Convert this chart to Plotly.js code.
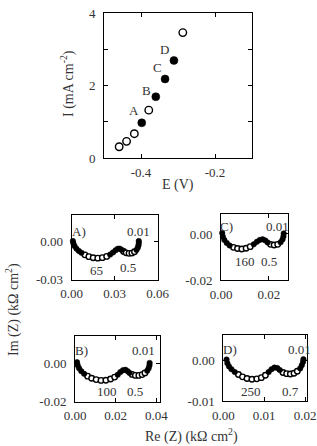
<!DOCTYPE html>
<html><head><meta charset="utf-8">
<script src="https://cdn.plot.ly/plotly-3.0.1.min.js"></script>
<style>html,body{margin:0;padding:0;background:#fff}#c{width:317px;height:446px}</style>
</head><body><div id="c"></div>
<script>
// ---- Top panel: I vs E ----
const E_open = [-0.459, -0.439, -0.418, -0.379, -0.287];
const I_open = [0.31, 0.46, 0.67, 1.32, 3.46];
const E_filled = [-0.398, -0.360, -0.335, -0.311];
const I_filled = [0.97, 1.69, 2.18, 2.69];
const pointLabels = ["A", "B", "C", "D"];

// ---- Panel A ----
const A_f1_re = [0.0008, 0.0012, 0.0020, 0.0033, 0.0050, 0.0068];
const A_f1_im = [0.0005, -0.0015, -0.0035, -0.0055, -0.0073, -0.0088];
const A_o1_re = [0.0092, 0.0120, 0.0150, 0.0182, 0.0214, 0.0244];
const A_o1_im = [-0.0104, -0.0118, -0.0127, -0.0130, -0.0126, -0.0116];
const A_f2_re = [0.0268, 0.0288, 0.0306, 0.0321, 0.0335, 0.0348];
const A_f2_im = [-0.0102, -0.0085, -0.0068, -0.0056, -0.0055, -0.0064];
const A_o2_re = [0.0362, 0.0380, 0.0400, 0.0420, 0.0438];
const A_o2_im = [-0.0078, -0.0088, -0.0092, -0.0090, -0.0080];
const A_f3_re = [0.0452, 0.0461, 0.0466, 0.0468, 0.0468];
const A_f3_im = [-0.0065, -0.0047, -0.0029, -0.0011, 0.0005];

// ---- Panel B ----
const B_f1_re = [0.0010, 0.0013, 0.0020, 0.0031, 0.0045];
const B_f1_im = [0.0006, -0.0010, -0.0026, -0.0041, -0.0055];
const B_o1_re = [0.0062, 0.0082, 0.0104, 0.0128, 0.0152, 0.0175, 0.0195];
const B_o1_im = [-0.0067, -0.0078, -0.0085, -0.0089, -0.0088, -0.0082, -0.0072];
const B_f2_re = [0.0210, 0.0223, 0.0236, 0.0248, 0.0259, 0.0268];
const B_f2_im = [-0.0060, -0.0046, -0.0036, -0.0034, -0.0041, -0.0050];
const B_o2_re = [0.0281, 0.0297, 0.0314, 0.0330, 0.0344];
const B_o2_im = [-0.0058, -0.0063, -0.0063, -0.0059, -0.0050];
const B_f3_re = [0.0355, 0.0362, 0.0366, 0.0367];
const B_f3_im = [-0.0039, -0.0026, -0.0012, 0.0002];

// ---- Panel C ----
const C_f1_re = [0.0005, 0.0008, 0.0014, 0.0024, 0.0036];
const C_f1_im = [0.0004, -0.0012, -0.0026, -0.0039, -0.0050];
const C_o1_re = [0.0052, 0.0069, 0.0087, 0.0105, 0.0122];
const C_o1_im = [-0.0058, -0.0063, -0.0065, -0.0062, -0.0055];
const C_f2_re = [0.0137, 0.0150, 0.0162, 0.0174, 0.0185, 0.0195];
const C_f2_im = [-0.0045, -0.0034, -0.0026, -0.0023, -0.0028, -0.0037];
const C_o2_re = [0.0207, 0.0222, 0.0237];
const C_o2_im = [-0.0045, -0.0048, -0.0045];
const C_f3_re = [0.0249, 0.0257, 0.0261, 0.0262];
const C_f3_im = [-0.0036, -0.0024, -0.0011, 0.0002];

// ---- Panel D ----
const D_f1_re = [0.0008, 0.0010, 0.0014, 0.0020, 0.0028];
const D_f1_im = [0.0003, -0.0006, -0.0014, -0.0021, -0.0028];
const D_o1_re = [0.0037, 0.0047, 0.0058, 0.0070, 0.0082, 0.0093, 0.0103];
const D_o1_im = [-0.0034, -0.0040, -0.0044, -0.0046, -0.0045, -0.0042, -0.0036];
const D_f2_re = [0.0111, 0.0118, 0.0125, 0.0132, 0.0138];
const D_f2_im = [-0.0028, -0.0021, -0.0017, -0.0018, -0.0023];
const D_o2_re = [0.0146, 0.0155, 0.0164, 0.0173, 0.0181];
const D_o2_im = [-0.0029, -0.0032, -0.0033, -0.0031, -0.0026];
const D_f3_re = [0.0188, 0.0192, 0.0195, 0.0196];
const D_f3_im = [-0.0019, -0.0011, -0.0003, 0.0004];

// tick labels
const topXTicks = [-0.4, -0.2], topXText = ["-0.4", "-0.2"];
const topYTicks = [0, 2, 4], topYText = ["0", "2", "4"];
const A_xt = [0, 0.03, 0.06], A_xtt = ["0.00", "0.03", "0.06"];
const A_yt = [-0.03, 0], A_ytt = ["-0.03", "0.00"];
const B_xt = [0, 0.02, 0.04], B_xtt = ["0.00", "0.02", "0.04"];
const B_yt = [-0.02, 0], B_ytt = ["-0.02", "0.00"];
const C_xt = [0, 0.02], C_xtt = ["0.00", "0.02"];
const C_yt = [-0.02, 0], C_ytt = ["-0.02", "0.00"];
const D_xt = [0, 0.01, 0.02], D_xtt = ["0.00", "0.01", "0.02"];
const D_yt = [-0.01, 0], D_ytt = ["-0.01", "0.00"];

const W = 317, H = 446;
const FONT = "Liberation Serif, Times New Roman, serif";
const TXT = "#333";
const px = v => v / W, py = v => 1 - v / H;

const openM = s => ({symbol: "circle", size: s, color: "#fff", line: {color: "#000", width: 1.4}});
const fillM = s => ({symbol: "circle", size: s, color: "#000", line: {color: "#000", width: 0.5}});
const tr = (x, y, m, xa, ya) => ({x, y, type: "scatter", mode: "markers", marker: m, xaxis: xa, yaxis: ya, hoverinfo: "skip", cliponaxis: false});

const data = [
  tr(E_open, I_open, openM(7.5), "x", "y"),
  tr(E_filled, I_filled, fillM(8), "x", "y"),
];
function panel(xa, ya, f1r, f1i, o1r, o1i, f2r, f2i, o2r, o2i, f3r, f3i) {
  data.push(tr(o1r, o1i, openM(5.5), xa, ya));
  data.push(tr(o2r, o2i, openM(5.5), xa, ya));
  data.push(tr(f1r, f1i, fillM(5.5), xa, ya));
  data.push(tr(f2r, f2i, fillM(5.5), xa, ya));
  data.push(tr(f3r, f3i, fillM(5.5), xa, ya));
}
panel("x2", "y2", A_f1_re, A_f1_im, A_o1_re, A_o1_im, A_f2_re, A_f2_im, A_o2_re, A_o2_im, A_f3_re, A_f3_im);
panel("x3", "y3", B_f1_re, B_f1_im, B_o1_re, B_o1_im, B_f2_re, B_f2_im, B_o2_re, B_o2_im, B_f3_re, B_f3_im);
panel("x4", "y4", C_f1_re, C_f1_im, C_o1_re, C_o1_im, C_f2_re, C_f2_im, C_o2_re, C_o2_im, C_f3_re, C_f3_im);
panel("x5", "y5", D_f1_re, D_f1_im, D_o1_re, D_o1_im, D_f2_re, D_f2_im, D_o2_re, D_o2_im, D_f3_re, D_f3_im);

function ax(domain, range, tv, tt, anchor, extra) {
  return Object.assign({
    domain, range, tickvals: tv, ticktext: tt, anchor,
    showline: true, mirror: "ticks", linecolor: "#000", linewidth: 1,
    ticks: "inside", ticklen: 4, tickwidth: 1, tickcolor: "#000",
    showgrid: false, zeroline: false, fixedrange: true,
    tickfont: {family: FONT, size: 13, color: TXT},
    ticklabelstandoff: 2
  }, extra || {});
}

const layout = {
  width: W, height: H, margin: {l: 0, r: 0, t: 0, b: 0},
  paper_bgcolor: "#fff", plot_bgcolor: "#fff", showlegend: false,
  font: {family: FONT, color: TXT},
  xaxis: ax([px(104), px(252)], [-0.5, -0.1], topXTicks, topXText, "y"),
  yaxis: ax([py(158), py(13)], [0, 4], topYTicks, topYText, "x",
            {minor: {dtick: 1, ticks: "inside", ticklen: 4, tickcolor: "#000", showgrid: false}, ticklabelstandoff: 5}),
  xaxis2: ax([px(71.7), px(157.7)], [0, 0.06], A_xt, A_xtt, "y2"),
  yaxis2: ax([py(279.7), py(214.7)], [-0.03, 0.0213], A_yt, A_ytt, "x2", {ticklabelstandoff: 5}),
  xaxis3: ax([px(75), px(160)], [0, 0.0418], B_xt, B_xtt, "y3"),
  yaxis3: ax([py(401.7), py(336)], [-0.02, 0.0142], B_yt, B_ytt, "x3", {ticklabelstandoff: 5}),
  xaxis4: ax([px(221), px(288)], [0, 0.028], C_xt, C_xtt, "y4"),
  yaxis4: ax([py(280), py(213.5)], [-0.02, 0.0089], C_yt, C_ytt, "x4", {ticklabelstandoff: 5}),
  xaxis5: ax([px(223.3), px(306.7)], [0, 0.0204], D_xt, D_xtt, "y5"),
  yaxis5: ax([py(401), py(335)], [-0.01, 0.0064], D_yt, D_ytt, "x5", {ticklabelstandoff: 5}),
  annotations: []
};

const ann = (text, x, y, size, extra) => Object.assign({
  text, x: px(x), y: py(y), xref: "paper", yref: "paper", showarrow: false,
  xanchor: "center", yanchor: "middle", font: {family: FONT, size: size || 13, color: TXT}
}, extra || {});

const letterPos = [[134.3, 111], [146.3, 90], [157.3, 67.3], [164.3, 49.3]];
pointLabels.forEach((t, i) => layout.annotations.push(ann(t, letterPos[i][0], letterPos[i][1], 13)));

layout.annotations.push(
  ann("E (V)", 178, 185, 14),
  ann("I (mA cm<sup>-2</sup>)", 67, 84, 14, {textangle: -90}),
  ann("Im (Z) (kΩ cm<sup>2</sup>)", 12, 310, 14, {textangle: -90}),
  ann("Re (Z) (kΩ cm<sup>2</sup>)", 191, 435, 14),
  ann("A)", 79, 232, 13), ann("0.01", 138, 231.5, 13), ann("65", 96, 270.5, 13), ann("0.5", 128, 267, 13),
  ann("C)", 226, 226.5, 13), ann("0.01", 277, 226.5, 13), ann("160", 245, 261, 13), ann("0.5", 268.5, 261, 13),
  ann("B)", 81.5, 350.5, 13), ann("0.01", 143, 350.5, 13), ann("100", 106.5, 391.5, 13), ann("0.5", 135, 391, 13),
  ann("D)", 230, 349.5, 13), ann("0.01", 299, 349.5, 13), ann("250", 251.5, 391, 13), ann("0.7", 290, 391, 13)
);

Plotly.newPlot("c", data, layout, {staticPlot: true, displayModeBar: false});
</script>
</body></html>
